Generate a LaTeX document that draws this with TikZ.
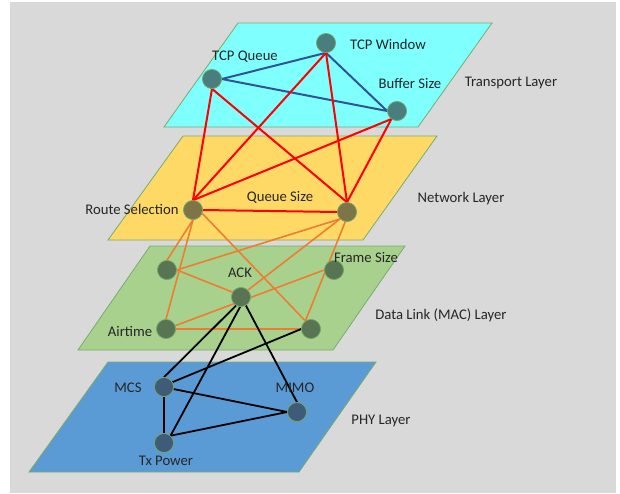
\documentclass[tikz,border=0pt]{standalone}
\usepackage{fontspec}
\setmainfont{Carlito}
\definecolor{canvas}{RGB}{217,217,217}
\definecolor{rim}{RGB}{120,172,108}
\definecolor{transfill}{RGB}{128,255,255}
\definecolor{netfill}{RGB}{255,217,102}
\definecolor{linkfill}{RGB}{169,209,142}
\definecolor{phyfill}{RGB}{91,155,213}
\definecolor{transdot}{RGB}{74,126,126}
\definecolor{netdot}{RGB}{125,117,72}
\definecolor{linkdot}{RGB}{88,116,82}
\definecolor{phydot}{RGB}{62,92,120}
\definecolor{bluelink}{RGB}{47,85,151}
\definecolor{redlink}{RGB}{255,0,0}
\definecolor{orangelink}{RGB}{237,125,49}
\definecolor{txt}{RGB}{38,38,38}
\tikzset{
  layer/.style={draw=rim, line width=0.8pt},
  dot/.style={circle, minimum size=19pt, inner sep=0pt, draw=rim, line width=0.6pt},
  lbl/.style={text=txt, inner sep=0pt, font=\fontsize{14.7}{16}\selectfont},
  tlink/.style={draw=bluelink, line width=2pt},
  rlink/.style={draw=redlink, line width=2pt},
  olink/.style={draw=orangelink, line width=1.6pt},
  plink/.style={draw=black, line width=1.8pt},
}
\begin{document}
\begin{tikzpicture}[x=1pt, y=-1pt]
\useasboundingbox (0,0) rectangle (620,493);
\fill[white] (0,0) rectangle (620,493);
\fill[canvas] (10,2) rectangle (616,493);

% layer planes
\filldraw[layer, fill=phyfill]   (29,472) -- (299,472) -- (376,362) -- (108,362) -- cycle;
\filldraw[layer, fill=linkfill]  (78,350) -- (333,350) -- (405,246) -- (150,246) -- cycle;
\filldraw[layer, fill=netfill]   (108,240) -- (363,240) -- (437,136) -- (183,136) -- cycle;
\filldraw[layer, fill=transfill] (164,127) -- (418,127) -- (492,23) -- (238,23) -- cycle;

% nodes
\node[dot, fill=transdot] (tw) at (326,43) {};
\node[dot, fill=transdot] (tq) at (212,79) {};
\node[dot, fill=transdot] (bs) at (397,111) {};

\node[dot, fill=netdot] (rs) at (193,210) {};
\node[dot, fill=netdot] (qs) at (347,212) {};

\node[dot, fill=linkdot] (tl)  at (167,270) {};
\node[dot, fill=linkdot] (fs)  at (334,270) {};
\node[dot, fill=linkdot] (ack) at (241,297) {};
\node[dot, fill=linkdot] (air) at (166,329) {};
\node[dot, fill=linkdot] (br)  at (311,329) {};

\node[dot, fill=phydot] (mcs)  at (164,387) {};
\node[dot, fill=phydot] (mimo) at (297,412) {};
\node[dot, fill=phydot] (tx)   at (164,443) {};

% transport layer links
\draw[tlink] (tq.east) -- (tw.south);
\draw[tlink] (tq.east) -- (bs.west);
\draw[tlink] (tw.south) -- (bs.west);

% transport to network links
\draw[rlink] (tq.south) -- (rs.north);
\draw[rlink] (tq.south) -- (qs.north);
\draw[rlink] (tw.south) -- (rs.north);
\draw[rlink] (tw.south) -- (qs.north);
\draw[rlink] (bs.-125) -- (rs.north);
\draw[rlink] (bs.-125) -- (qs.north);
\draw[rlink] (rs.east) -- (qs.west);

% network to data link links
\draw[olink] (rs.south) -- (tl.north);
\draw[olink] (rs.south) -- (air.north);
\draw[olink] (rs.-20) -- (br.125);
\draw[olink] (qs.-135) -- (tl.east);
\draw[olink] (qs.-135) -- (ack.45);
\draw[olink] (qs.-100) -- (br.125);
\draw[olink] (tl.east) -- (ack.150);
\draw[olink] (air.20) -- (fs.west);
\draw[olink] (air.east) -- (br.west);

% data link to physical links
\draw[plink] (ack.-120) -- (mcs.north);
\draw[plink] (ack.-95) -- (tx.48);
\draw[plink] (ack.-60) -- (mimo.north);
\draw[plink] (br.west) -- (mcs.30);
\draw[plink] (mcs.-12) -- (mimo.west);
\draw[plink] (mcs.south) -- (tx.north);
\draw[plink] (tx.48) -- (mimo.west);

% redraw dots above the links
\foreach \n/\c in {tw/transdot,tq/transdot,bs/transdot,rs/netdot,qs/netdot,
                   tl/linkdot,fs/linkdot,ack/linkdot,air/linkdot,br/linkdot,
                   mcs/phydot,mimo/phydot,tx/phydot}
  \filldraw[fill=\c, draw=rim, line width=0.6pt] (\n.center) circle (9.5pt);

% labels
\node[lbl] (ltq)  at (245,57)  {TCP Queue};
\node[lbl] (ltw)  at (388,44)  {TCP Window};
\node[lbl] (lbs)  at (410,83)  {Buffer Size};
\node[lbl] (ltl)  at (511,83)  {Transport Layer};
\node[lbl] (lrs)  at (132,209) {Route Selection};
\node[lbl] (lqs)  at (280,197) {Queue Size};
\node[lbl] (lnl)  at (461,199) {Network Layer};
\node[lbl] (lfs)  at (366,257) {Frame Size};
\node[lbl] (lack) at (240,273) {ACK};
\node[lbl] (lair) at (130,331) {Airtime};
\node[lbl] (ldl)  at (441,315) {Data Link (MAC) Layer};
\node[lbl] (lmcs) at (128,388) {MCS};
\node[lbl] (lmm)  at (295,388) {MIMO};
\node[lbl] (ltx)  at (166,461) {Tx Power};
\node[lbl] (lphy) at (381,421) {PHY Layer};
\end{tikzpicture}
\end{document}
